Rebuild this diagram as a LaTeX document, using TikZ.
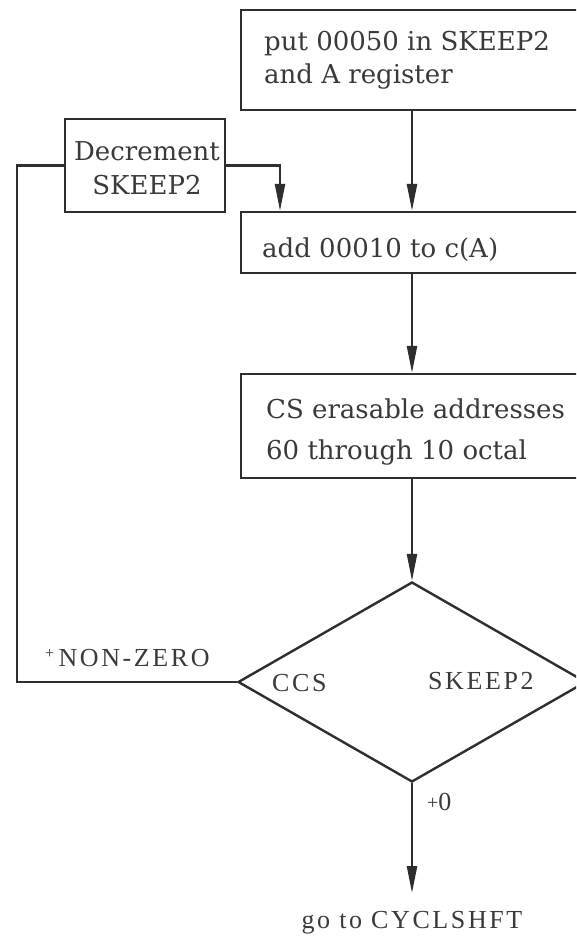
\documentclass[tikz,border=0pt]{standalone}
\usepackage{fontspec}
\setmainfont{DejaVu Serif}
\newfontfamily\labfont[LetterSpace=10]{Liberation Serif}
\usetikzlibrary{arrows.meta,shapes.geometric}
\definecolor{ink}{HTML}{2E2E2E}
\definecolor{tink}{HTML}{3A3A3A}
\tikzset{
  flow/.style={draw=ink, line width=2.4pt},
  boxnode/.style={draw=ink, line width=2.4pt, rectangle, inner sep=0pt},
  boxtext/.style={inner sep=0pt, text=tink, font=\fontsize{26}{26}\selectfont},
  labtext/.style={inner sep=0pt, text=tink, font=\labfont\fontsize{26}{26}\selectfont},
  >={Triangle[length=27pt,width=10pt]}
}
\begin{document}
\begin{tikzpicture}[x=1pt,y=-1pt]
\useasboundingbox (0,0) rectangle (576,937);
\clip (0,0) rectangle (576,937);
\fill[white] (0,0) rectangle (576,937);

% boxes
\node[boxnode, minimum width=349pt, minimum height=100pt] (tb) at (415.5,60) {};
\node[boxnode, minimum width=160pt, minimum height=93pt] (dec) at (145,165.5) {};
\node[boxnode, minimum width=349pt, minimum height=61pt] (ab) at (415.5,242.5) {};
\node[boxnode, minimum width=349pt, minimum height=104pt] (cs) at (415.5,426) {};
\node[draw=ink, line width=2.4pt, diamond, inner sep=0pt, minimum width=348pt, minimum height=200pt] (dia) at (412,682) {};

% box texts
\node[boxtext, anchor=base west] (tb1) at (264,50) {put 00050 in SKEEP2};
\node[boxtext, anchor=base west] (tb2) at (264,83) {and A register};
\node[boxtext, anchor=base] (dec1) at (147,160) {Decrement};
\node[boxtext, anchor=base] (dec2) at (147,194) {SKEEP2};
\node[boxtext, anchor=base west] (ab1) at (262,257) {add 00010 to c(A)};
\node[boxtext, anchor=base west] (cs1) at (266,418) {CS erasable addresses};
\node[boxtext, anchor=base west] (cs2) at (266,459) {60 through 10 octal};

% diamond texts and labels
\node[labtext, anchor=base west] (ccs) at (272,691) {CCS};
\node[labtext, anchor=base west] (sk) at (428,689) {SKEEP2};
\node[labtext, anchor=base west] (nz) at (45,666) {\raisebox{8pt}{\fontsize{16}{16}\selectfont +}\,NON-ZERO};
\node[labtext, anchor=base west] (pz) at (427,810) {\raisebox{1pt}{\fontsize{20}{20}\selectfont +}0};
\node[labtext, anchor=base] (go) at (412,928) {go to CYCLSHFT};

% helper coordinates
\coordinate (lx) at (17,0);
\coordinate (dx) at (280,0);
\coordinate (endc) at (412,893);

% connectors
\draw[flow, ->] (tb.south -| dia.north) -- (ab.north -| dia.north);
\draw[flow, ->] (dec.east) -- (dec.east -| dx) -- (ab.north -| dx);
\draw[flow, ->] (ab.south -| dia.north) -- (cs.north -| dia.north);
\draw[flow, ->] (cs.south -| dia.north) -- (dia.north);
\draw[flow] (dia.west) -- (dia.west -| lx) -- (dec.west -| lx) -- (dec.west);
\draw[flow, ->] (dia.south) -- (endc);
\end{tikzpicture}
\end{document}
